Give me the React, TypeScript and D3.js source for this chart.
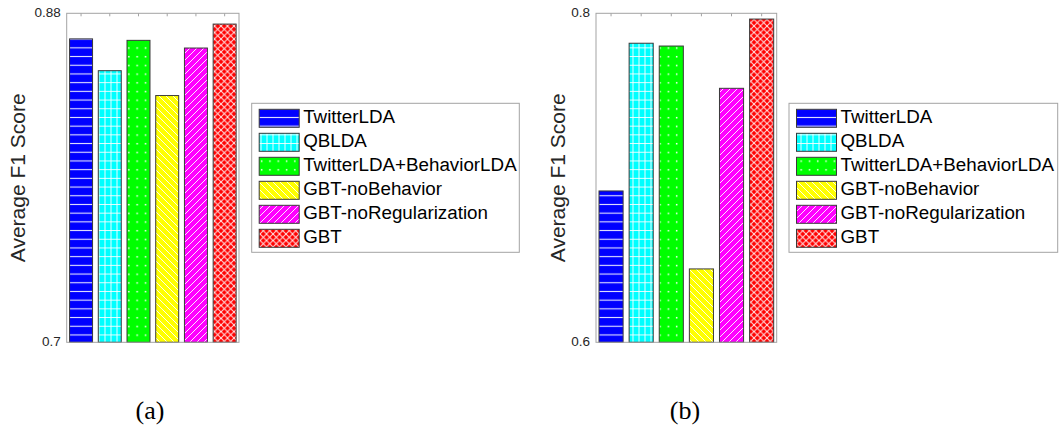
import React from 'react';
import * as d3 from 'd3';

const methods = ['TwitterLDA', 'QBLDA', 'TwitterLDA+BehaviorLDA', 'GBT-noBehavior', 'GBT-noRegularization', 'GBT'];
const colors = ['#0000ff', '#00ffff', '#00ff00', '#ffff00', '#ff00ff', '#ff0000'];
const scoresA = [0.866, 0.8486, 0.8652, 0.835, 0.861, 0.8741];
const scoresB = [0.692, 0.7818, 0.7801, 0.6446, 0.7544, 0.7965];
const domainA = [0.7, 0.88];
const domainB = [0.6, 0.8];
const tickLabelsA = ['0.7', '0.88'];
const tickLabelsB = ['0.6', '0.8'];
const captions = ['(a)', '(b)'];
const yTitle = 'Average F1 Score';

const AXIS = '#a3a3a3';
const TEXT = '#262626';
const FONT = '"Liberation Sans", Arial, Helvetica, sans-serif';

function Patterns() {
  const w = 'rgba(255,255,255,0.9)';
  return (
    <defs>
      <pattern id="pat0" patternUnits="userSpaceOnUse" width={10} height={8.7}>
        <rect width={10} height={8.7} fill={colors[0]} />
        <line x1={0} x2={10} y1={4.35} y2={4.35} stroke={w} strokeWidth={1.1} />
      </pattern>
      <pattern id="pat1" patternUnits="userSpaceOnUse" width={6} height={8.7}>
        <rect width={6} height={8.7} fill={colors[1]} />
        <line x1={3} x2={3} y1={0} y2={8.7} stroke={w} strokeWidth={1} />
        <line x1={0} x2={6} y1={4.35} y2={4.35} stroke={w} strokeWidth={1} />
      </pattern>
      <pattern id="pat2" patternUnits="userSpaceOnUse" width={8.3} height={8.7}>
        <rect width={8.3} height={8.7} fill={colors[2]} />
        <rect x={3.6} y={3.8} width={1.5} height={1.5} fill="#fff" />
      </pattern>
      <pattern id="pat3" patternUnits="userSpaceOnUse" width={7} height={7}>
        <rect width={7} height={7} fill={colors[3]} />
        <line x1={0} y1={0} x2={7} y2={7} stroke={w} strokeWidth={1} />
        <line x1={-1} y1={6} x2={1} y2={8} stroke={w} strokeWidth={1} />
        <line x1={6} y1={-1} x2={8} y2={1} stroke={w} strokeWidth={1} />
      </pattern>
      <pattern id="pat4" patternUnits="userSpaceOnUse" width={7} height={7}>
        <rect width={7} height={7} fill={colors[4]} />
        <line x1={0} y1={7} x2={7} y2={0} stroke={w} strokeWidth={1} />
        <line x1={-1} y1={1} x2={1} y2={-1} stroke={w} strokeWidth={1} />
        <line x1={6} y1={8} x2={8} y2={6} stroke={w} strokeWidth={1} />
      </pattern>
      <pattern id="pat5" patternUnits="userSpaceOnUse" width={6.5} height={6.5}>
        <rect width={6.5} height={6.5} fill={colors[5]} />
        <line x1={0} y1={0} x2={6.5} y2={6.5} stroke={w} strokeWidth={1} />
        <line x1={0} y1={6.5} x2={6.5} y2={0} stroke={w} strokeWidth={1} />
      </pattern>
    </defs>
  );
}

type PanelProps = {
  values: number[];
  domain: number[];
  tickLabels: string[];
  x0: number;
  x1: number;
  yLabelX: number;
  legendX: number;
  legendW: number;
  caption: string;
  captionX: number;
};

function Panel(p: PanelProps) {
  const top = 13.3;
  const bottom = 342.3;
  const x = d3.scaleBand<string>().domain(methods).range([p.x0, p.x1]).paddingInner(0.2).paddingOuter(0.1);
  const y = d3.scaleLinear().domain(p.domain).range([bottom, top]);
  const legTop = 103.3;
  const legH = 149;
  const rowY = d3.scaleLinear().domain([0, 1]).range([legTop + 15, legTop + 39]);
  return (
    <g>
      {methods.map((m) => {
        const cx = (x(m) as number) + x.bandwidth() / 2;
        return <line key={'t' + m} x1={cx} x2={cx} y1={top} y2={top + 3} stroke={AXIS} strokeWidth={1} />;
      })}
      {methods.map((m, i) => (
        <rect
          key={m}
          x={x(m)}
          y={y(p.values[i])}
          width={x.bandwidth()}
          height={bottom - y(p.values[i])}
          fill={`url(#pat${i})`}
          stroke="#3a3a3a"
          strokeWidth={1}
        />
      ))}
      <rect x={p.x0} y={top} width={p.x1 - p.x0} height={bottom - top} fill="none" stroke={AXIS} strokeWidth={1} />
      {p.domain.map((d, i) => (
        <text key={'yl' + i} x={p.x0 - 6} y={y(d)} textAnchor="end" dominantBaseline="middle" fontFamily={FONT} fontSize={13.5} fill={TEXT}>
          {p.tickLabels[i]}
        </text>
      ))}
      <text
        transform={`translate(${p.yLabelX},${(top + bottom) / 2}) rotate(-90)`}
        textAnchor="middle"
        fontFamily={FONT}
        fontSize={21}
        fill={TEXT}
      >
        {yTitle}
      </text>
      <rect x={p.legendX} y={legTop} width={p.legendW} height={legH} fill="#fff" stroke={AXIS} strokeWidth={1} />
      {methods.map((m, i) => {
        const cy = rowY(i);
        return (
          <g key={'lg' + m}>
            <rect x={p.legendX + 7.5} y={cy - 9} width={40} height={18} fill={`url(#pat${i})`} stroke="#3a3a3a" strokeWidth={1} />
            <text x={p.legendX + 51.5} y={cy} dominantBaseline="middle" fontFamily={FONT} fontSize={18.8} fill="#000">
              {m}
            </text>
          </g>
        );
      })}
      <text x={p.captionX} y={419} textAnchor="middle" fontFamily='"Liberation Serif", "DejaVu Serif", serif' fontSize={26} fill="#000">
        {p.caption}
      </text>
    </g>
  );
}

export default function App() {
  return (
    <svg width={1061} height={429} style={{ position: 'absolute', left: 0, top: 0, background: '#fff' }}>
      <Patterns />
      <rect width={1061} height={429} fill="#fff" />
      <Panel values={scoresA} domain={domainA} tickLabels={tickLabelsA} x0={66.7} x1={239} yLabelX={25} legendX={251.7} legendW={267.6} caption={captions[0]} captionX={150} />
      <Panel values={scoresB} domain={domainB} tickLabels={tickLabelsB} x0={596} x1={776.7} yLabelX={565} legendX={789} legendW={268.7} caption={captions[1]} captionX={685} />
    </svg>
  );
}
